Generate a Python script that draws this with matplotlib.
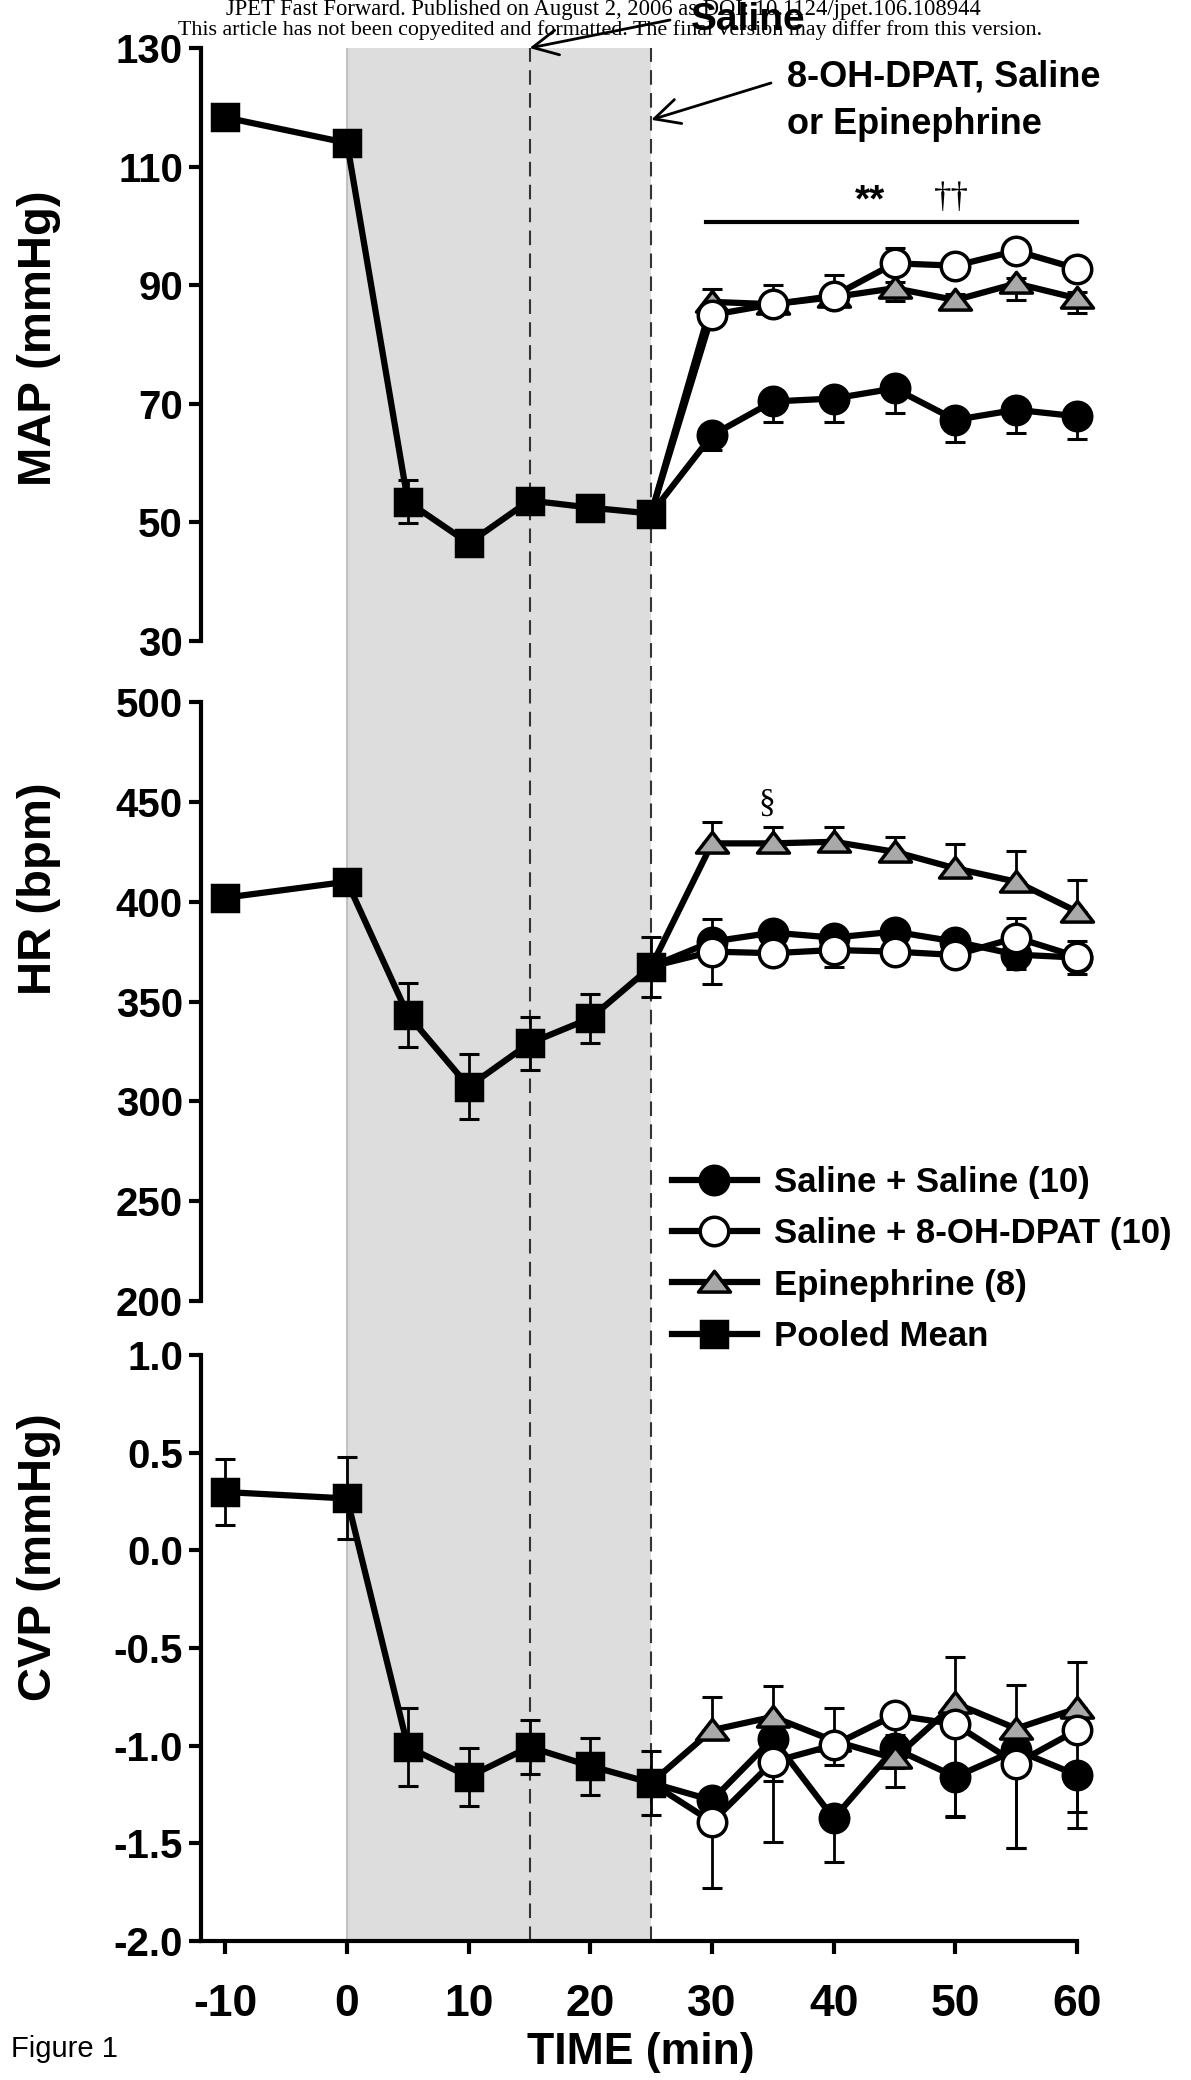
import matplotlib
matplotlib.use("Agg")
from matplotlib import pyplot as plt
from matplotlib import font_manager
from matplotlib.path import Path
from matplotlib.lines import Line2D

# ---------------- data ----------------
time_pre = [-10, 0, 5, 10, 15, 20, 25]
time_post = [30, 35, 40, 45, 50, 55, 60]

# MAP (mmHg)
map_pooled = [118.3, 114.0, 53.5, 46.5, 53.7, 52.5, 51.5]
map_pooled_err = [0.8, 0.8, 3.6, 0.8, 0.8, 0.8, 0.8]
map_sal = [64.7, 70.4, 70.9, 72.6, 67.3, 69.0, 67.9]
map_sal_lo = [2.5, 3.4, 3.9, 4.2, 3.7, 3.9, 3.9]
map_sal_hi = [0, 0, 0, 0, 0, 0, 0]
map_dpat = [85.0, 86.8, 88.2, 93.7, 93.3, 95.8, 92.8]
map_dpat_lo = [0, 0, 0, 0, 0, 0, 0]
map_dpat_hi = [1.5, 3.2, 3.5, 2.5, 1.5, 1.5, 1.5]
map_epi = [87.2, 86.8, 88.0, 89.5, 87.5, 90.3, 87.8]
map_epi_lo = [1.0, 1.0, 1.0, 2.1, 1.0, 2.8, 2.5]
map_epi_hi = [2.2, 1.0, 1.0, 1.0, 1.0, 1.0, 1.0]

# HR (bpm)
hr_pooled = [402, 410, 343.3, 307.4, 329.1, 341.6, 367.5]
hr_pooled_err = [3, 3, 16, 16.3, 13.3, 12.3, 15]
hr_sal = [380, 384.5, 382, 385, 380, 373.5, 372]
hr_sal_lo = [4, 3, 3, 3, 3, 7, 4]
hr_sal_hi = [4, 3, 3, 3, 3, 3, 4]
hr_dpat = [375, 374.2, 375.8, 375, 373.3, 382, 372.5]
hr_dpat_lo = [16, 3, 8.3, 3, 3, 8, 8.5]
hr_dpat_hi = [16.5, 3, 3, 3, 3, 10, 8]
hr_epi = [429.2, 429.2, 430, 425, 416.7, 410, 395]
hr_epi_lo = [0, 0, 0, 0, 0, 0, 0]
hr_epi_hi = [10.8, 8.3, 7.2, 7.2, 12, 15.3, 15.9]

# CVP (mmHg)
cvp_pooled = [0.299, 0.266, -1.006, -1.159, -1.006, -1.104, -1.19]
cvp_pooled_err = [0.17, 0.21, 0.2, 0.15, 0.14, 0.146, 0.165]
cvp_sal = [-1.279, -0.963, -1.372, -1.014, -1.159, -1.022, -1.15]
cvp_sal_lo = [0.1, 0.22, 0.225, 0.1, 0.205, 0.5, 0.19]
cvp_sal_hi = [0, 0, 0, 0, 0, 0, 0]
cvp_dpat = [-1.39, -1.082, -0.997, -0.843, -0.89, -1.091, -0.92]
cvp_dpat_lo = [0.338, 0.41, 0.1, 0.1, 0.47, 0.43, 0.5]
cvp_dpat_hi = [0, 0, 0, 0, 0, 0, 0]
cvp_epi = [-0.92, -0.852, -0.975, -1.065, -0.783, -0.912, -0.809]
cvp_epi_lo = [0, 0, 0, 0.145, 0, 0, 0]
cvp_epi_hi = [0.17, 0.16, 0.17, 0, 0.236, 0.225, 0.239]

labels = ["Saline + Saline (10)", "Saline + 8-OH-DPAT (10)", "Epinephrine (8)", "Pooled Mean"]

# ---------------- style ----------------
names = {f.name for f in font_manager.fontManager.ttflist}
sans = "Liberation Sans Narrow" if "Liberation Sans Narrow" in names else "Liberation Sans"
plt.rcParams['font.family'] = sans
plt.rcParams['font.weight'] = 'bold'
plt.rcParams['axes.labelweight'] = 'bold'
plt.rcParams['axes.unicode_minus'] = False

tri = Path([(-1, -0.6), (1, -0.6), (0, 0.7), (-1, -0.6)],
           [Path.MOVETO, Path.LINETO, Path.LINETO, Path.CLOSEPOLY])

LW = 4.5
XL = (-12, 60)
left, width = 0.1688, 0.7355

fig = plt.figure(figsize=(11.91, 20.80), dpi=100)

# shaded infusion period spanning all panels
ax_bg = fig.add_axes([left, 0.0668, width, 0.9101])
ax_bg.set_xlim(XL); ax_bg.set_ylim(0, 1); ax_bg.axis('off')
ax_bg.axvspan(0, 25, color='#dddddd', lw=0)
ax_bg.axvline(0, color='#b8b8b8', lw=1.2)
ax_bg.axvline(15, color='#333333', lw=1.5, ls=(0, (7, 4)))
ax_bg.axvline(25, color='#333333', lw=1.5, ls=(0, (7, 4)))

ax_map = fig.add_axes([left, 0.6918, width, 0.2851])
ax_hr = fig.add_axes([left, 0.3745, width, 0.2880])
ax_cvp = fig.add_axes([left, 0.0668, width, 0.2817])


def draw(ax, x, y, lo, hi, marker, face, ms, z, start=None):
    eb = ax.errorbar(x, y, yerr=[lo, hi], fmt='none', ecolor='black', elinewidth=2,
                     capsize=7, capthick=2.2, zorder=z - 0.5)
    for a in list(eb.lines[1]) + list(eb.lines[2]):
        a.set_clip_on(False)
    xs, ys, every = list(x), list(y), None
    if start is not None:
        xs = [start[0]] + xs
        ys = [start[1]] + ys
        every = list(range(1, len(xs)))
    ax.plot(xs, ys, color='black', lw=LW, marker=marker, ms=ms, mfc=face, mec='black',
            mew=2.5, markevery=every, zorder=z, clip_on=False)


for ax, pooled, perr, sal, slo, shi, dp, dlo, dhi, ep, elo, ehi in [
        (ax_map, map_pooled, map_pooled_err, map_sal, map_sal_lo, map_sal_hi,
         map_dpat, map_dpat_lo, map_dpat_hi, map_epi, map_epi_lo, map_epi_hi),
        (ax_hr, hr_pooled, hr_pooled_err, hr_sal, hr_sal_lo, hr_sal_hi,
         hr_dpat, hr_dpat_lo, hr_dpat_hi, hr_epi, hr_epi_lo, hr_epi_hi),
        (ax_cvp, cvp_pooled, cvp_pooled_err, cvp_sal, cvp_sal_lo, cvp_sal_hi,
         cvp_dpat, cvp_dpat_lo, cvp_dpat_hi, cvp_epi, cvp_epi_lo, cvp_epi_hi)]:
    start = (time_pre[-1], pooled[-1])
    draw(ax, time_post, sal, slo, shi, 'o', 'black', 20.5, 3, start)
    draw(ax, time_post, ep, elo, ehi, tri, '#a9a9a9', 23, 4, start)
    draw(ax, time_post, dp, dlo, dhi, 'o', 'white', 20.5, 5, start)
    draw(ax, time_pre, pooled, perr, perr, 's', 'black', 19, 6)

    ax.patch.set_visible(False)
    ax.set_xlim(XL)
    for s in ['top', 'right']:
        ax.spines[s].set_visible(False)
    ax.spines['left'].set_linewidth(3)
    ax.tick_params(axis='y', direction='out', length=9, width=3, labelsize=29, pad=4)

for ax in (ax_map, ax_hr):
    ax.spines['bottom'].set_visible(False)
    ax.set_xticks([])

ax_map.set_ylim(30, 130)
ax_map.set_yticks([30, 50, 70, 90, 110, 130])
ax_hr.set_ylim(200, 500)
ax_hr.set_yticks([200, 250, 300, 350, 400, 450, 500])
ax_cvp.set_ylim(-2.0, 1.0)
ax_cvp.set_yticks([-2.0, -1.5, -1.0, -0.5, 0.0, 0.5, 1.0])
ax_cvp.set_yticklabels(["%.1f" % v for v in ax_cvp.get_yticks()])

ax_cvp.spines['bottom'].set_linewidth(3)
ax_cvp.set_xticks([-10, 0, 10, 20, 30, 40, 50, 60])
ax_cvp.tick_params(axis='x', direction='out', length=9, width=3, labelsize=32, pad=22)
ax_cvp.set_xlabel("TIME (min)", fontsize=32, fontweight='bold')
ax_cvp.xaxis.set_label_coords(0.502, -0.156)

ylab = dict(fontsize=34, family='Liberation Sans', fontweight='bold')
ax_map.set_ylabel("MAP (mmHg)", **ylab)
ax_map.yaxis.set_label_coords(-0.160, 0.511)
ax_hr.set_ylabel("HR (bpm)", **ylab)
ax_hr.yaxis.set_label_coords(-0.160, 0.688)
ax_cvp.set_ylabel("CVP (mmHg)", **ylab)
ax_cvp.yaxis.set_label_coords(-0.160, 0.655)

# significance marks
ax_map.plot([29.5, 60], [100.7, 100.7], color='black', lw=3, clip_on=False)
ax_map.text(43, 104.2, "**", ha='center', va='center', fontsize=28)
ax_map.text(49.7, 104.6, "\u2020\u2020", ha='center', va='center', fontsize=25,
            family='Liberation Serif', fontweight='normal')
ax_hr.text(34.5, 449, "\u00a7", ha='center', va='center', fontsize=24,
           family='Liberation Serif', fontweight='normal')

# injection arrows
ax_map.annotate("", xy=(15, 130), xycoords='data', xytext=(670 / 1191, 1 - 20 / 2080),
                textcoords='figure fraction', annotation_clip=False,
                arrowprops=dict(arrowstyle='->', color='black', lw=2, mutation_scale=45,
                                shrinkA=0, shrinkB=0))
ax_map.annotate("", xy=(25, 117.9), xycoords='data', xytext=(771 / 1191, 1 - 83 / 2080),
                textcoords='figure fraction', annotation_clip=False,
                arrowprops=dict(arrowstyle='->', color='black', lw=2, mutation_scale=45,
                                shrinkA=0, shrinkB=0))
fig.text(787 / 1191, 1 - 77 / 2080, "8-OH-DPAT, Saline", ha='left', va='center', fontsize=26)
fig.text(787 / 1191, 1 - 125 / 2080, "or Epinephrine", ha='left', va='center', fontsize=26)

# header
fig.text(0.507, 1 - 9 / 2080, "JPET Fast Forward. Published on August 2, 2006 as DOI: 10.1124/jpet.106.108944",
         ha='center', va='center', fontsize=16.3, family='Liberation Serif', fontweight='normal')
fig.text(0.512, 1 - 30 / 2080, "This article has not been copyedited and formatted. The final version may differ from this version.",
         ha='center', va='center', fontsize=15.8, family='Liberation Serif', fontweight='normal')
fig.text(748 / 1191, 1 - 20 / 2080, "Saline", ha='center', va='center', fontsize=28)

fig.text(0.009, 0.0149, "Figure 1", ha='left', va='center', fontsize=21, fontweight='normal')

# legend
handles = [
    Line2D([], [], color='black', lw=LW, marker='o', ms=20.5, mfc='black', mec='black', mew=2.5),
    Line2D([], [], color='black', lw=LW, marker='o', ms=20.5, mfc='white', mec='black', mew=2.5),
    Line2D([], [], color='black', lw=LW, marker=tri, ms=23, mfc='#a9a9a9', mec='black', mew=2.5),
    Line2D([], [], color='black', lw=LW, marker='s', ms=19, mfc='black', mec='black', mew=2.5),
]
fig.legend(handles, labels, loc='upper left', bbox_to_anchor=(0.564, 0.4395), frameon=False,
           fontsize=25, handlelength=2.45, handletextpad=0.5, labelspacing=0.53,
           borderpad=0, borderaxespad=0)

fig.savefig("out.png", dpi=100)
